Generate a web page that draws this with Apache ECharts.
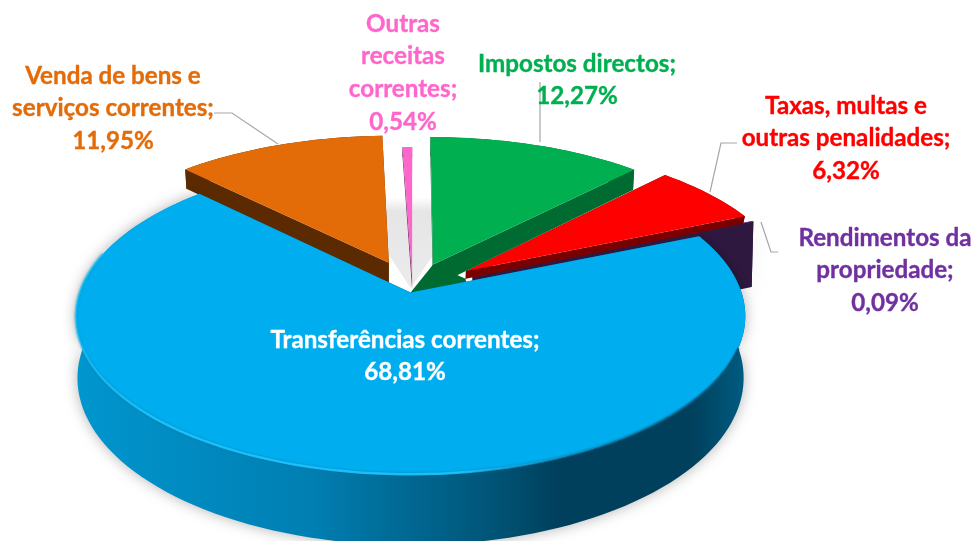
<!DOCTYPE html>
<html>
<head>
<meta charset="utf-8">
<script src="https://cdn.jsdelivr.net/npm/echarts@6/dist/echarts.min.js"></script>
<style>
html, body { margin: 0; background: #fff; }
#chart-div { width: 976px; height: 541px; }
</style>
</head>
<body>
<div id="chart-div"></div>
<script>
// data, clockwise from 12 o'clock
const categories = ['Impostos directos', 'Taxas, multas e outras penalidades', 'Rendimentos da propriedade',
    'Transferências correntes', 'Venda de bens e serviços correntes', 'Outras receitas correntes']
const values = [12.27, 6.32, 0.09, 68.81, 11.95, 0.54]
const labelLines = [
    ['Impostos directos;'],
    ['Taxas, multas e', 'outras penalidades;'],
    ['Rendimentos da', 'propriedade;'],
    ['Transferências correntes;'],
    ['Venda de bens e', 'serviços correntes;'],
    ['Outras', 'receitas', 'correntes;']
]

// looks of each slice
const topColors = ['#00B050', '#FF0000', '#7030A0', '#00AEEF', '#E36C09', '#FF66CC']
const sideColors = ['#006B30', '#7A0000', '#2E1840', '#005A80', '#5C2A00', '#7A2A6A']
const textColors = ['#00B050', '#FF0000', '#7030A0', '#FFFFFF', '#E36C09', '#FF66CC']
const explode = [0.17, 0.2, 0.2, 0.03, 0.185, 0.07]
const depth = [23, 8, 70, 60, 22, 12]
const labelX = [577, 846, 885, 405, 113, 403]
const labelY = [64, 106, 238, 340, 76, 24]
const drawOrder = [2, 1, 0, 4, 5, 3] // rear slices first, the big one on top

// leader lines
const leaders = [
    [[540, 82], [540, 142]],
    [[737, 143], [721, 143], [710, 192]],
    [[778, 252], [771, 252], [761, 222]],
    [[214, 113], [232, 113], [278, 144]]
]

// projection of the tilted disc
const cx = 412.5, cy = 288, rx = 329.5, ry = 153, persp = 0.15

function project(px, py) {
    const w = 1 + persp * py
    return [cx + rx * px / w, cy - ry * py / w, w]
}

const total = values.reduce((a, b) => a + b, 0)
const startAngle = values.map((v, i) => values.slice(0, i).reduce((a, b) => a + b, 0) / total * 360)

function sliceGeometry(i) {
    const a0 = startAngle[i]
    const a1 = a0 + values[i] / total * 360
    const mid = (a0 + a1) / 2 * Math.PI / 180
    const ox = Math.sin(mid) * explode[i]
    const oy = Math.cos(mid) * explode[i]
    const arc = []
    const steps = Math.max(2, Math.ceil((a1 - a0) / 2))
    for (let s = 0; s <= steps; s++) {
        const t = (a0 + (a1 - a0) * s / steps) * Math.PI / 180
        arc.push(project(ox + Math.sin(t), oy + Math.cos(t)))
    }
    return { arc: arc, apex: project(ox, oy), ox: ox, oy: oy }
}

function lower(p, h) { // same point at the bottom of the wall
    return [cx + (p[0] - cx) * 0.995, p[1] + h / p[2]]
}

function xy(p) { return [p[0], p[1]] }

function arcBetween(a0, a1, ox, oy) {
    const pts = []
    const n = Math.ceil(Math.abs(a1 - a0) / 2)
    for (let s = 0; s <= n; s++) {
        const t = (a0 + (a1 - a0) * s / n) * Math.PI / 180
        pts.push(xy(project(ox + Math.sin(t), oy + Math.cos(t))))
    }
    return pts
}

const blueWall = new echarts.graphic.LinearGradient(0, 0, 1, 0, [
    { offset: 0, color: '#0096CF' },
    { offset: 0.35, color: '#007FB2' },
    { offset: 0.62, color: '#005578' },
    { offset: 0.72, color: '#00405C' },
    { offset: 0.92, color: '#00405C' },
    { offset: 1, color: '#005C82' }
])

function renderSlice(params, api) {
    const i = api.value(0)
    const g = sliceGeometry(i)
    const h = depth[i]
    const children = []
    const isBig = i === 3
    const bottomArc = g.arc.map(p => lower(p, h))
    const outer = g.arc.map(xy).concat(bottomArc.slice().reverse())

    // walls
    children.push({
        type: 'polygon',
        shape: { points: outer },
        style: {
            fill: isBig ? blueWall : sideColors[i],
            shadowBlur: (isBig || i === 2) ? 14 : 0,
            shadowColor: 'rgba(0,0,0,0.3)'
        }
    })
    const first = g.arc[0], last = g.arc[g.arc.length - 1]
    ;[first, last].forEach(p => {
        children.push({
            type: 'polygon',
            shape: { points: [xy(g.apex), xy(p), lower(p, h), lower(g.apex, h)] },
            style: { fill: sideColors[i] }
        })
    })

    // the wall of the first slice runs on behind the next slices
    if (i === 0) {
        const next = sliceGeometry(1)
        const thin = sliceGeometry(2)
        const big = sliceGeometry(3)
        children.push({
            type: 'polygon',
            shape: { points: [xy(g.apex), lower(next.apex, depth[1]), lower(thin.apex, depth[2]), xy(big.apex)] },
            style: { fill: sideColors[0] }
        })
    }

    // top face
    children.push({
        type: 'polygon',
        shape: { points: [xy(g.apex)].concat(g.arc.map(xy)) },
        style: { fill: topColors[i] }
    })

    // lit rim of the big slice, fading out towards the right
    if (isBig) {
        children.push({
            type: 'polyline',
            shape: { points: arcBetween(285, 110, g.ox, g.oy) },
            style: {
                fill: null,
                lineWidth: 2.5,
                shadowBlur: 3,
                shadowColor: 'rgba(0,90,130,0.5)',
                stroke: new echarts.graphic.LinearGradient(0, 0, 1, 0, [
                    { offset: 0, color: 'rgba(28,196,255,0.55)' },
                    { offset: 0.12, color: 'rgba(28,196,255,0.9)' },
                    { offset: 0.58, color: 'rgba(28,196,255,0.9)' },
                    { offset: 0.78, color: 'rgba(10,120,170,0.5)' },
                    { offset: 1, color: 'rgba(0,70,100,0.75)' }
                ])
            }
        })
    }
    return { type: 'group', children: children }
}

function renderLabel(params, api) {
    const i = api.value(0)
    const lines = labelLines[i].concat([values[i].toFixed(2).replace('.', ',') + '%'])
    return {
        type: 'group',
        children: lines.map((t, n) => ({
            type: 'text',
            style: {
                x: labelX[i],
                y: labelY[i] + n * 32.6,
                text: t,
                fill: textColors[i],
                stroke: textColors[i],
                lineWidth: 0.35,
                font: 'bold 24.2px Lato, "Open Sans", sans-serif',
                align: 'center',
                verticalAlign: 'middle'
            }
        }))
    }
}

// soft shade on the floor, seen through the gap behind the slices
function renderGap(params, api) {
    const pts = [[cx - 2, cy]].concat(arcBetween(-12, 12, 0, 0).map(p => [p[0], cy - (cy - p[1]) * 0.68]))
    return {
        type: 'polygon',
        shape: { points: pts },
        style: {
            fill: new echarts.graphic.LinearGradient(0, 0, 0, 1, [
                { offset: 0, color: 'rgba(225,225,225,0)' },
                { offset: 0.15, color: 'rgba(225,225,225,0.85)' },
                { offset: 1, color: 'rgba(232,232,232,0.85)' }
            ])
        }
    }
}

let myChart = echarts.init(document.getElementById('chart-div'), null, { renderer: 'canvas' })

const option = {
    animation: false,
    backgroundColor: '#fff',
    series: [
        { type: 'custom', coordinateSystem: 'none', silent: true, z: 1, data: [[0]], renderItem: renderGap },
        {
            type: 'custom', coordinateSystem: 'none', silent: true, z: 2,
            data: leaders.map((l, i) => [i]),
            renderItem: (params, api) => ({
                type: 'polyline',
                shape: { points: leaders[api.value(0)] },
                style: { fill: null, stroke: '#A6A6A6', lineWidth: 1.2 }
            })
        },
        {
            type: 'custom', coordinateSystem: 'none', silent: true, z: 3,
            dimensions: ['slice', 'share'],
            data: drawOrder.map(i => [i, values[i]]),
            renderItem: renderSlice
        },
        {
            type: 'custom', coordinateSystem: 'none', silent: true, z: 4,
            data: categories.map((c, i) => [i]),
            renderItem: renderLabel
        }
    ]
}

myChart.setOption(option)
</script>
</body>
</html>
